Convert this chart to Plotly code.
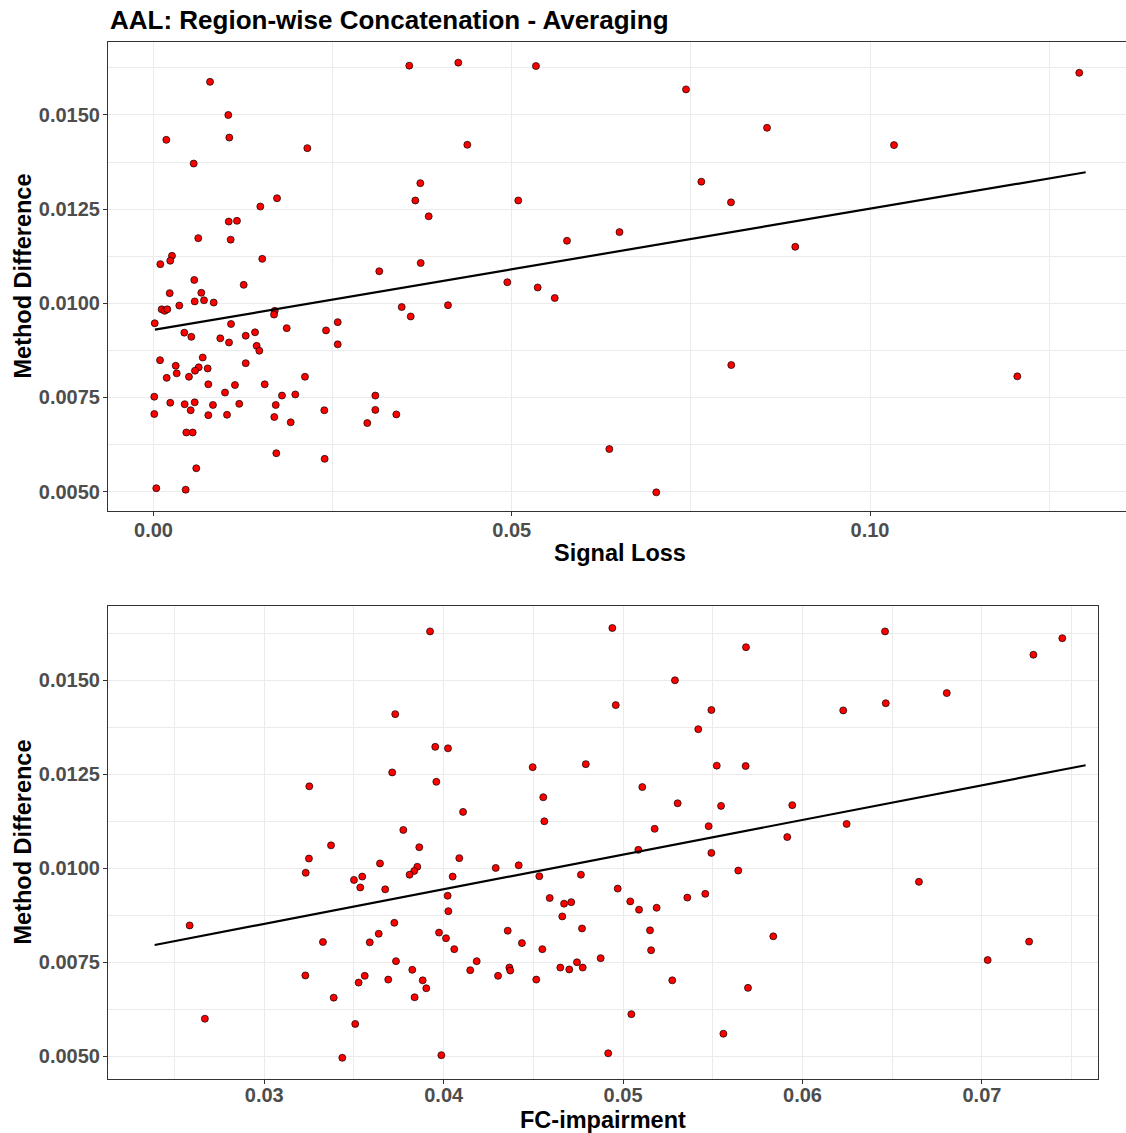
import plotly.graph_objects as go
from plotly.subplots import make_subplots

# ---------------- data ----------------
signal_loss = [
    0.00789, 0.01044, 0.00179, 0.01058, 0.02147, 0.00561, 0.01724, 0.01491, 0.01050, 0.01165,
    0.00625, 0.01077, 0.00258, 0.00234, 0.00095, 0.01518, 0.00569, 0.01259,
    0.00226, 0.00667, 0.00575, 0.00705, 0.00840, 0.00360, 0.00114, 0.00156, 0.00193, 0.01692,
    0.01682, 0.00017, 0.01082, 0.01859, 0.00430, 0.00528, 0.01287, 0.01417, 0.00932, 0.01054,
    0.01440, 0.01477, 0.00091, 0.00687, 0.00310, 0.01287, 0.00631, 0.00579, 0.00756, 0.00324,
    0.00184, 0.00495, 0.02114, 0.00765, 0.01552, 0.01137, 0.00998, 0.00011, 0.01793, 0.01979,
    0.00234, 0.00435, 0.00575, 0.00830, 0.01197, 0.01706, 0.00519, 0.00011, 0.00765, 0.01026,
    0.01686, 0.01915, 0.00458, 0.00547, 0.01714, 0.00597, 0.00039, 0.00449,
    0.03570, 0.04254, 0.05338, 0.04380, 0.03724, 0.03654, 0.05091, 0.03841, 0.06504, 0.05771,
    0.03151, 0.03729, 0.04938, 0.05362, 0.05600, 0.03464, 0.04110, 0.03590, 0.02571, 0.02408,
    0.02571, 0.03096, 0.02384, 0.03096, 0.03389, 0.02984, 0.02389, 0.06362,
    0.07432, 0.12921, 0.08563, 0.10335, 0.07646, 0.08060, 0.08957, 0.08064, 0.12056, 0.07017,
]
method_diff_signal = [
    0.01588, 0.01500, 0.01434, 0.01440, 0.01412, 0.01371, 0.01279, 0.01257, 0.01217, 0.01219,
    0.01173, 0.01169, 0.01126, 0.01113, 0.01104, 0.01118, 0.01062, 0.01049,
    0.01027, 0.01028, 0.01005, 0.01008, 0.01002, 0.00994, 0.00984, 0.00980, 0.00984, 0.00980,
    0.00970, 0.00947, 0.00945, 0.00934, 0.00922, 0.00911, 0.00914, 0.00923, 0.00907, 0.00896,
    0.00887, 0.00874, 0.00849, 0.00856, 0.00834, 0.00841, 0.00830, 0.00821, 0.00827, 0.00814,
    0.00802, 0.00805, 0.00805, 0.00785, 0.00785, 0.00783, 0.00763, 0.00752, 0.00755, 0.00758,
    0.00736, 0.00732, 0.00737, 0.00730, 0.00733, 0.00730, 0.00716, 0.00706, 0.00703, 0.00704,
    0.00698, 0.00684, 0.00657, 0.00657, 0.00602, 0.00562, 0.00509, 0.00505,
    0.01631, 0.01639, 0.01630, 0.01421, 0.01319, 0.01273, 0.01273, 0.01231, 0.01189, 0.01166,
    0.01085, 0.01107, 0.01056, 0.01042, 0.01014, 0.00990, 0.00995, 0.00965, 0.00950, 0.00928,
    0.00891, 0.00755, 0.00716, 0.00717, 0.00705, 0.00682, 0.00587, 0.00613,
    0.01568, 0.01612, 0.01466, 0.01420, 0.01323, 0.01268, 0.01150, 0.00836, 0.00806, 0.00498,
]

fc_impairment = [
    0.03924, 0.03730, 0.03953, 0.04024, 0.03713, 0.03959, 0.03251,
    0.03775, 0.03372, 0.03864, 0.03249, 0.03645, 0.03231, 0.03853, 0.03836, 0.03810, 0.03500,
    0.03546, 0.03535, 0.03674, 0.04022, 0.04026, 0.02584, 0.03725, 0.03638, 0.03327, 0.03588,
    0.03974, 0.04013, 0.03734, 0.03229, 0.03560, 0.03526, 0.03691, 0.03825, 0.03883, 0.03903,
    0.03838, 0.03387, 0.02669, 0.03507, 0.03435, 0.03987,
    0.04940, 0.05289, 0.04959, 0.05419, 0.04496, 0.04792, 0.05107, 0.05304, 0.04108, 0.04555,
    0.04561,
    0.05176, 0.05085, 0.04087, 0.04290, 0.04418, 0.04050, 0.04533, 0.04765, 0.04970, 0.05358,
    0.04591, 0.04671, 0.04711, 0.05040, 0.05089, 0.05187, 0.04661, 0.05150, 0.04771, 0.04357,
    0.05156, 0.04059, 0.04436, 0.04550, 0.04184, 0.04875, 0.04743, 0.04148, 0.04366, 0.04371,
    0.04650, 0.04700, 0.04775, 0.04303, 0.04516, 0.05274, 0.05046, 0.04917,
    0.06460, 0.05685, 0.07448, 0.07287, 0.06804, 0.06227, 0.06464, 0.05492, 0.05522, 0.05683,
    0.05546, 0.05943, 0.05477, 0.06246, 0.05915, 0.05492, 0.05642, 0.06649, 0.05458, 0.05837,
    0.07032, 0.07263, 0.05696, 0.05559,
]
method_diff_fc = [
    0.01630, 0.01410, 0.01323, 0.01319, 0.01255, 0.01230, 0.01218,
    0.01102, 0.01061, 0.01056, 0.01026, 0.01013, 0.00988, 0.01004, 0.00993, 0.00983, 0.00969,
    0.00978, 0.00949, 0.00944, 0.00927, 0.00886, 0.00848, 0.00855, 0.00826, 0.00804, 0.00803,
    0.00829, 0.00814, 0.00753, 0.00715, 0.00714, 0.00696, 0.00704, 0.00730, 0.00702, 0.00681,
    0.00657, 0.00656, 0.00600, 0.00586, 0.00496, 0.00503,
    0.01639, 0.01500, 0.01434, 0.01370, 0.01269, 0.01277, 0.01216, 0.01173, 0.01150, 0.01189,
    0.01125,
    0.01105, 0.01049, 0.01027, 0.01001, 0.01008, 0.00978, 0.00979, 0.00983, 0.00946, 0.00922,
    0.00921, 0.00906, 0.00910, 0.00912, 0.00890, 0.00895, 0.00872, 0.00835, 0.00840, 0.00834,
    0.00782, 0.00785, 0.00801, 0.00785, 0.00753, 0.00761, 0.00750, 0.00729, 0.00736, 0.00728,
    0.00736, 0.00731, 0.00736, 0.00714, 0.00704, 0.00702, 0.00612, 0.00508,
    0.01630, 0.01588, 0.01612, 0.01568, 0.01466, 0.01420, 0.01439, 0.01421, 0.01273, 0.01272,
    0.01166, 0.01168, 0.01112, 0.01118, 0.01083, 0.01041, 0.00994, 0.00964, 0.00932, 0.00819,
    0.00756, 0.00805, 0.00682, 0.00560,
]

# fitted regression lines (end points)
fit_signal_x = [0.0002, 0.1301]
fit_signal_y = [0.00930, 0.01348]
fit_fc_x = [0.02389, 0.07578]
fit_fc_y = [0.00796, 0.01274]

y_ticks = [0.0050, 0.0075, 0.0100, 0.0125, 0.0150]
signal_ticks = [0.00, 0.05, 0.10]
fc_ticks = [0.03, 0.04, 0.05, 0.06, 0.07]

title_text = "AAL: Region-wise Concatenation - Averaging"

# ---------------- figure ----------------
FONT = "Liberation Sans, Arial, Helvetica, sans-serif"
GRID = "#EBEBEB"
BORDER = "#333333"
TICKCOL = "#4D4D4D"

fig = make_subplots(rows=2, cols=1)

marker = dict(size=7, color="#FF0000", line=dict(color="#000000", width=0.7))

fig.add_trace(go.Scatter(x=signal_loss, y=method_diff_signal, mode="markers",
                         marker=marker, showlegend=False, hoverinfo="x+y"), row=1, col=1)
fig.add_trace(go.Scatter(x=fit_signal_x, y=fit_signal_y, mode="lines",
                         line=dict(color="#000000", width=2.2), showlegend=False), row=1, col=1)
fig.add_trace(go.Scatter(x=fc_impairment, y=method_diff_fc, mode="markers",
                         marker=marker, showlegend=False, hoverinfo="x+y"), row=2, col=1)
fig.add_trace(go.Scatter(x=fit_fc_x, y=fit_fc_y, mode="lines",
                         line=dict(color="#000000", width=2.2), showlegend=False), row=2, col=1)

W, H = 1126, 1133
ML, MR, MT, MB = 108, 0, 42, 54
plot_h = H - MT - MB
plot_w = W - ML - MR

def py(px):  # pixel from top -> paper y
    return (H - MB - px) / plot_h

def pxp(px):  # pixel from left -> paper x
    return (px - ML) / plot_w

tickfont = dict(family=FONT, size=20, color=TICKCOL, weight="bold")

common_axis = dict(showline=True, linecolor=BORDER, linewidth=1.1, gridcolor=GRID, gridwidth=1.1,
                   ticks="outside", ticklen=4, tickcolor=BORDER, tickwidth=1.1,
                   tickfont=tickfont, zeroline=False, automargin=False)

fig.update_layout(
    width=W, height=H,
    margin=dict(l=ML, r=MR, t=MT, b=MB),
    paper_bgcolor="white", plot_bgcolor="white",
    font=dict(family=FONT),
    xaxis=dict(domain=[0, 1], range=[-0.00635, 0.13573], tickvals=signal_ticks,
               tickformat=".2f", mirror=True, ticklabelstandoff=-3,
               minor=dict(dtick=0.025, tick0=0, showgrid=True, gridcolor=GRID, gridwidth=0.6),
               **common_axis),
    yaxis=dict(domain=[py(511), py(42)], range=[0.004485, 0.016938], tickvals=y_ticks,
               tickformat=".4f", mirror=False, ticklabelstandoff=-1,
               minor=dict(dtick=0.00125, tick0=0.005, showgrid=True, gridcolor=GRID, gridwidth=0.6),
               **common_axis),
    xaxis2=dict(domain=[0, pxp(1098)], range=[0.02129, 0.07647], tickvals=fc_ticks,
                tickformat=".2f", mirror=True, ticklabelstandoff=-6,
                minor=dict(dtick=0.005, tick0=0.02, showgrid=True, gridcolor=GRID, gridwidth=0.6),
                **common_axis),
    yaxis2=dict(domain=[py(1079), py(606)], range=[0.004396, 0.016976], tickvals=y_ticks,
                tickformat=".4f", mirror=True, ticklabelstandoff=-1,
                minor=dict(dtick=0.00125, tick0=0.005, showgrid=True, gridcolor=GRID, gridwidth=0.6),
                **common_axis),
)

axis_title_font = dict(family=FONT, size=23.5, color="#000000", weight="bold")
fig.add_annotation(text=title_text, xref="paper", yref="paper", x=0, y=py(20),
                   xanchor="left", yanchor="middle", showarrow=False,
                   font=dict(family=FONT, size=26, color="#000000", weight="bold"))
fig.add_annotation(text="Signal Loss", xref="paper", yref="paper", x=pxp(620), y=py(553),
                   xanchor="center", yanchor="middle", showarrow=False, font=axis_title_font)
fig.add_annotation(text="FC-impairment", xref="paper", yref="paper", x=pxp(603), y=py(1120),
                   xanchor="center", yanchor="middle", showarrow=False, font=axis_title_font)
fig.add_annotation(text="Method Difference", xref="paper", yref="paper", x=pxp(22), y=py(276.5),
                   xanchor="center", yanchor="middle", textangle=-90, showarrow=False,
                   font=axis_title_font)
fig.add_annotation(text="Method Difference", xref="paper", yref="paper", x=pxp(22), y=py(842.5),
                   xanchor="center", yanchor="middle", textangle=-90, showarrow=False,
                   font=axis_title_font)

fig.write_html("out.html", config={"displayModeBar": False},
               post_script="document.body.style.margin='0px';document.body.style.overflow='hidden';")
